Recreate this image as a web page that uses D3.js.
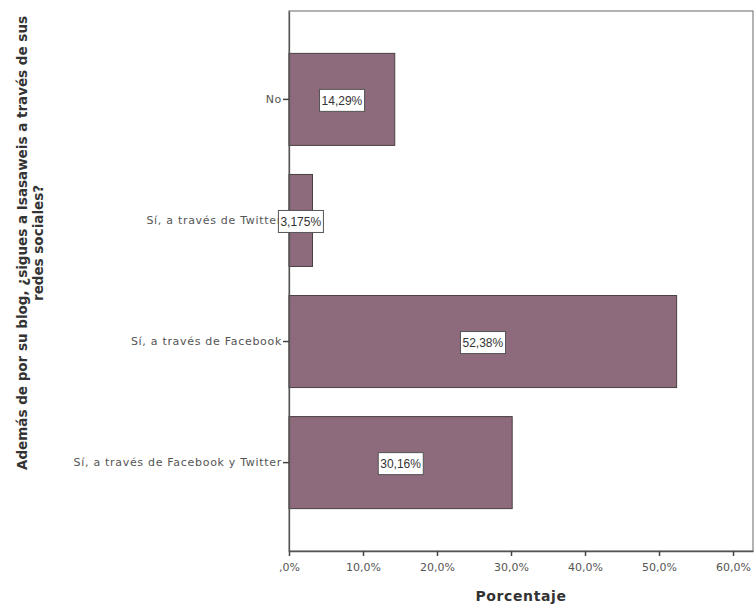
<!DOCTYPE html>
<html>
<head>
<meta charset="utf-8">
<script src="https://cdn.jsdelivr.net/npm/d3@7"></script>
<style>
  body { margin: 0; background: #fff; }
  svg { display: block; font-family: "DejaVu Sans", Verdana, sans-serif; }
</style>
</head>
<body>
<script>
// chart data
const categories = ['No', 'Sí, a través de Twitter', 'Sí, a través de Facebook', 'Sí, a través de Facebook y Twitter']
const values = [14.29, 3.175, 52.38, 30.16]
const valueLabels = ['14,29%', '3,175%', '52,38%', '30,16%']
const tickValues = [0, 10, 20, 30, 40, 50, 60]
const tickLabels = [',0%', '10,0%', '20,0%', '30,0%', '40,0%', '50,0%', '60,0%']

const width = 754
const height = 605
const plotLeft = 289, plotRight = 753, plotTop = 11, plotBottom = 551

const svg = d3.select('body').append('svg').attr('width', width).attr('height', height)

const x = d3.scaleLinear().domain([0, 62.7]).range([plotLeft, plotRight])
const y = d3.scaleBand().domain(categories).range([plotTop, plotBottom]).paddingInner(0.24).paddingOuter(0.35)

// frame
svg.append('rect')
   .attr('x', plotLeft).attr('y', plotTop)
   .attr('width', plotRight - plotLeft).attr('height', plotBottom - plotTop)
   .attr('fill', 'none').attr('stroke', '#8a8a8a').attr('stroke-width', 1.3)

// bars
const pairs = d3.zip(categories, values, valueLabels)

svg.selectAll('.bar')
   .data(pairs)
   .enter()
   .append('rect')
   .attr('class', 'bar')
   .attr('x', x(0))
   .attr('y', d => y(d[0]))
   .attr('width', d => x(d[1]) - x(0))
   .attr('height', y.bandwidth())
   .attr('fill', '#8d6a7c')
   .attr('stroke', '#4a4040')
   .attr('stroke-width', 1)

// x axis
const xAxis = svg.append('g')
   .attr('transform', 'translate(0,' + plotBottom + ')')
   .call(d3.axisBottom(x).tickValues(tickValues).tickFormat((d, i) => tickLabels[i]).tickSize(5).tickSizeOuter(0))
xAxis.select('.domain').attr('stroke', '#555').attr('stroke-width', 1.3)
xAxis.selectAll('.tick line').attr('stroke', '#444').attr('stroke-width', 1.5)
xAxis.selectAll('.tick text').attr('fill', '#555').attr('font-size', 11).attr('font-family', '"DejaVu Sans", sans-serif').attr('dy', '1.05em')

// y axis
const yAxis = svg.append('g')
   .attr('transform', 'translate(' + plotLeft + ',0)')
   .call(d3.axisLeft(y).tickSize(6).tickPadding(1).tickSizeOuter(0))
yAxis.select('.domain').attr('stroke', '#555').attr('stroke-width', 1.3)
yAxis.selectAll('.tick line').attr('stroke', '#444').attr('stroke-width', 1.5)
yAxis.selectAll('.tick text').attr('fill', '#555').attr('font-size', 11)
     .attr('font-family', '"DejaVu Sans", sans-serif').attr('letter-spacing', 0.7)

// value labels in white boxes
const lab = svg.selectAll('.lab')
   .data(pairs)
   .enter()
   .append('g')
   .attr('class', 'lab')
   .attr('transform', d => 'translate(' + (x(d[1]) + x(0)) / 2 + ',' + (y(d[0]) + y.bandwidth() / 2 + 1) + ')')

lab.append('text')
   .attr('text-anchor', 'middle')
   .attr('dy', '0.36em')
   .attr('font-size', 12)
   .attr('font-family', 'Arial, "Liberation Sans", sans-serif')
   .attr('fill', '#333')
   .text(d => d[2])

lab.each(function () {
  const g = d3.select(this)
  const bb = g.select('text').node().getBBox()
  g.insert('rect', 'text')
   .attr('x', bb.x - 2).attr('y', -11)
   .attr('width', bb.width + 4).attr('height', 22)
   .attr('fill', '#fff').attr('stroke', '#555').attr('stroke-width', 1)
})

// axis titles
svg.append('text')
   .attr('x', (plotLeft + plotRight) / 2).attr('y', 601)
   .attr('text-anchor', 'middle')
   .attr('font-size', 14).attr('font-weight', 'bold').attr('fill', '#333')
   .attr('letter-spacing', 0.6)
   .text('Porcentaje')

const yt = svg.append('text')
   .attr('transform', 'translate(27,243) rotate(-90)')
   .attr('text-anchor', 'middle')
   .attr('font-size', 13.5).attr('font-weight', 'bold').attr('fill', '#333')
yt.append('tspan').attr('x', 0).attr('y', 0).text('Además de por su blog, ¿sigues a Isasaweis a través de sus')
yt.append('tspan').attr('x', 0).attr('y', 16).text('redes sociales?')
</script>
</body>
</html>
